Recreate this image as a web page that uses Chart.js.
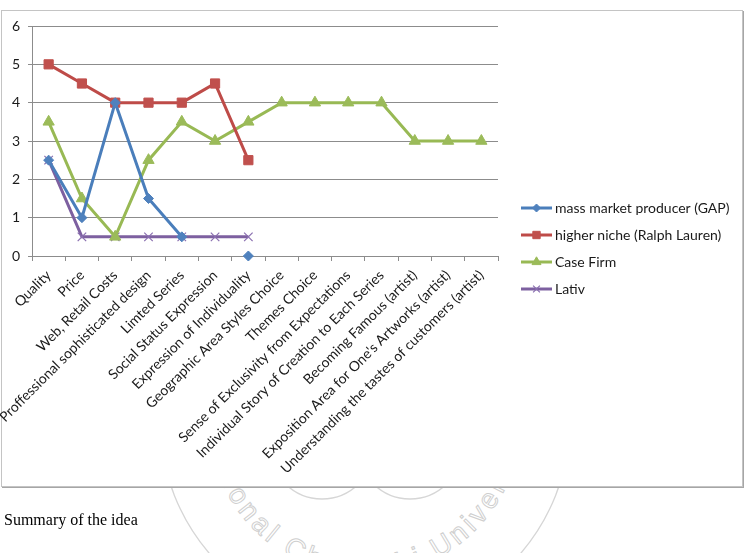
<!DOCTYPE html>
<html>
<head>
<meta charset="utf-8">
<script src="https://cdn.jsdelivr.net/npm/chart.js@4.4.1/dist/chart.umd.min.js"></script>
<style>
  html, body { margin: 0; padding: 0; background: #fff; }
  #wrap { position: relative; width: 746px; height: 553px; overflow: hidden; }
  #seal { position: absolute; left: 0; top: 0; }
  #frame {
    position: absolute; left: 1px; top: 10px; width: 740px; height: 475px;
    border: 1px solid #c4c4c4; box-shadow: 1px 1px 0 #a6a6a6; background: #fff;
  }
  #chart { position: absolute; left: 0; top: 0; }
  #caption {
    position: absolute; left: 4px; top: 511px;
    font-family: "Liberation Serif", "Times New Roman", serif; font-size: 16px; color: #000;
  }
</style>
</head>
<body>
<div id="wrap">
  <!-- marca d'água ao fundo, só aparece abaixo do quadro -->
  <svg id="seal" width="746" height="553">
    <defs><path id="sealArc" d="M 209 420 A 156 156 0 0 0 521 420" /></defs>
    <g fill="none" stroke="#d6d6d6" stroke-width="1.3">
      <circle cx="365" cy="420" r="205" />
      <circle cx="322" cy="447" r="52" />
      <circle cx="410" cy="447" r="52" />
    </g>
    <text font-family="Liberation Sans, sans-serif" font-size="28" fill="none" stroke="#cfcfcf" stroke-width="1">
      <textPath href="#sealArc" startOffset="50%" text-anchor="middle" textLength="470" lengthAdjust="spacing">National Chengchi University</textPath>
    </text>
  </svg>
  <div id="frame"></div>
  <canvas id="chart" width="746" height="553"></canvas>
  <div id="caption">Summary of the idea</div>
</div>
<script>
// categorias do eixo x
const categories = [
  'Quality', 'Price', 'Web, Retail Costs', 'Proffessional sophisticated design',
  'Limted Series', 'Social Status Expression', 'Expression of Individuality',
  'Geographic Area Styles Choice', 'Themes Choice', 'Sense of Exclusivity from Expectations',
  'Individual Story of Creation to Each Series', 'Becoming Famous (artist)',
  "Exposition Area for One's Artworks (artist)", 'Understanding the tastes of customers (artist)'
];

// valores de cada série (null = sem dado)
const gapValues   = [2.5, 1, 4, 1.5, 0.5, null, 0];
const ralphValues = [5, 4.5, 4, 4, 4, 4.5, 2.5];
const caseValues  = [3.5, 1.5, 0.5, 2.5, 3.5, 3, 3.5, 4, 4, 4, 4, 3, 3, 3];
const lativValues = [2.5, 0.5, 0.5, 0.5, 0.5, 0.5, 0.5];

const seriesNames = ['mass market producer (GAP)', 'higher niche (Ralph Lauren)', 'Case Firm', 'Lativ'];
const yTicks = { min: 0, max: 6, step: 1 };

const FONT = 'Lato, "Open Sans", sans-serif';

function makeSet(label, data, line, fill, style, radius) {
  return {
    label: label, data: data, clip: false,
    borderColor: line, backgroundColor: fill,
    borderWidth: 3, tension: 0, spanGaps: false,
    pointStyle: style, pointRadius: radius, pointHoverRadius: radius,
    pointBackgroundColor: fill, pointBorderColor: style === 'crossRot' ? '#8a6fb0' : fill,
    pointBorderWidth: style === 'crossRot' ? 1.2 : 1
  };
}

// legenda desenhada à mão para ficar no mesmo lugar do original
const sideLegend = {
  id: 'sideLegend',
  afterDraw(chart) {
    const ctx = chart.ctx;
    const rows = [208, 235, 262, 289];
    chart.data.datasets.forEach((ds, i) => {
      const y = rows[i];
      ctx.save();
      ctx.strokeStyle = ds.borderColor;
      ctx.lineWidth = 3;
      ctx.beginPath();
      ctx.moveTo(521, y);
      ctx.lineTo(552, y);
      ctx.stroke();
      ctx.fillStyle = ds.pointBackgroundColor;
      ctx.strokeStyle = ds.pointBorderColor;
      ctx.lineWidth = ds.pointBorderWidth;
      Chart.helpers.drawPoint(ctx, { pointStyle: ds.pointStyle, radius: ds.pointRadius * 0.8, rotation: 0, borderWidth: ds.pointBorderWidth }, 536.5, y);
      ctx.fillStyle = '#1a1a1a';
      ctx.font = '14px ' + FONT;
      ctx.textBaseline = 'middle';
      ctx.textAlign = 'left';
      ctx.fillText(ds.label, 555, y);
      ctx.restore();
    });
  }
};

new Chart(document.getElementById('chart'), {
  type: 'line',
  data: {
    labels: categories,
    datasets: [
      makeSet(seriesNames[0], gapValues, '#4a7ebb', '#4f81bd', 'rectRot', 5),
      makeSet(seriesNames[1], ralphValues, '#be4b48', '#c0504d', 'rect', 6.5),
      makeSet(seriesNames[2], caseValues, '#98b954', '#9bbb59', 'triangle', 6.5),
      makeSet(seriesNames[3], lativValues, '#7d60a0', '#8064a2', 'crossRot', 6)
    ]
  },
  options: {
    responsive: false,
    animation: false,
    layout: { padding: { top: 26, right: 248, bottom: 0, left: 0 } },
    plugins: { legend: { display: false }, tooltip: { enabled: false } },
    scales: {
      x: {
        type: 'category',
        offset: true,
        afterFit: s => { s.height = 553 - 256; },
        grid: { offset: true, drawOnChartArea: false, drawTicks: true, tickLength: 5, color: '#8c8c8c' },
        border: { color: '#8c8c8c', width: 1 },
        ticks: {
          autoSkip: false, minRotation: 45, maxRotation: 45, padding: 6,
          color: '#1a1a1a', font: { family: FONT, size: 14 }
        }
      },
      y: {
        min: yTicks.min, max: yTicks.max,
        afterFit: s => { s.width = 32; },
        grid: { color: '#8c8c8c', tickLength: 4, lineWidth: 1 },
        border: { color: '#8c8c8c', width: 1 },
        ticks: { stepSize: yTicks.step, padding: 8, color: '#1a1a1a', font: { family: FONT, size: 14 } }
      }
    }
  },
  plugins: [sideLegend]
});
</script>
</body>
</html>
